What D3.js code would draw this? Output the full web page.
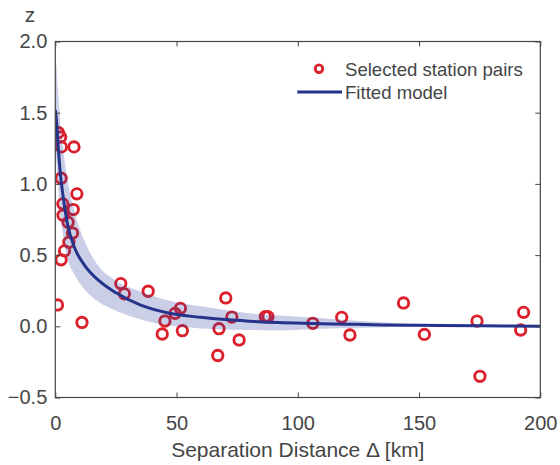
<!DOCTYPE html>
<html>
<head>
<meta charset="utf-8">
<script src="https://cdn.jsdelivr.net/npm/d3@7"></script>
<style>
  html, body { margin: 0; padding: 0; background: #fff; }
  svg { display: block; }
  text { font-family: "Liberation Sans", Arial, Helvetica, sans-serif; fill: #454545; }
</style>
</head>
<body>
<svg id="chart" width="560" height="465"></svg>
<script>
// ---- data ----
const pairDistance = [1.3, 2.2, 2.5, 7.7, 2.4, 8.9, 3.1, 7.4, 3.2, 5.3, 7.1, 5.6, 3.8, 2.4, 0.9, 11.0,
  27.0, 28.5, 38.3, 44.1, 45.2, 49.4, 51.6, 52.4, 67.0, 67.5, 70.3, 72.8, 75.8, 86.6, 87.7,
  106.2, 118.1, 121.5, 143.6, 152.2, 173.9, 175.1, 191.9, 193.1];
const pairZ = [1.36, 1.33, 1.26, 1.26, 1.04, 0.93, 0.86, 0.82, 0.78, 0.73, 0.655, 0.59, 0.53, 0.467, 0.15, 0.027,
  0.30, 0.228, 0.246, -0.054, 0.037, 0.091, 0.126, -0.031, -0.205, -0.017, 0.199, 0.065, -0.096, 0.068, 0.068,
  0.021, 0.063, -0.061, 0.164, -0.057, 0.037, -0.351, -0.026, 0.098];

const fitDistance = [0, 0.5, 1, 2, 3, 5, 8, 12, 18, 25, 35, 47, 60, 70, 80, 92, 106, 120, 135, 150, 175, 200];
const fitZ      = [1.52, 1.44, 1.31, 1.09, 0.94, 0.72, 0.55, 0.43, 0.32, 0.235, 0.15, 0.092, 0.063, 0.047, 0.036, 0.026, 0.02, 0.015, 0.01, 0.007, 0.003, 0.001];
const fitUpper  = [1.95, 1.82, 1.68, 1.45, 1.28, 1.03, 0.80, 0.60, 0.42, 0.32, 0.245, 0.18, 0.14, 0.115, 0.092, 0.075, 0.062, 0.045, 0.028, 0.016, 0.006, 0.002];
const fitLower  = [1.25, 1.15, 1.02, 0.80, 0.66, 0.48, 0.36, 0.26, 0.17, 0.11, 0.05, 0.005, -0.015, -0.022, -0.026, -0.028, -0.02, -0.012, -0.006, -0.002, 0.0, 0.0];

const xTicks = [0, 50, 100, 150, 200];
const yTicks = [-0.5, 0.0, 0.5, 1.0, 1.5, 2.0];
const legendLabels = ["Selected station pairs", "Fitted model"];
const xTitle = "Separation Distance \u0394 [km]";
const yTitle = "z";

// ---- layout ----
const svg = d3.select("#chart");
const mLeft = 55.3, mRight = 540.3, mTop = 41.5, mBottom = 397.5;
const x = d3.scaleLinear().domain([0, 200]).range([mLeft, mRight]);
const y = d3.scaleLinear().domain([-0.5, 2.0]).range([mBottom, mTop]);

const axisColor = "#454545";
const red = "#dc1f2a";
const navy = "#25338a";

svg.append("defs").append("clipPath").attr("id", "clip")
  .append("rect").attr("x", mLeft).attr("y", mTop).attr("width", mRight - mLeft).attr("height", mBottom - mTop);

const plot = svg.append("g").attr("clip-path", "url(#clip)");

// points
const pts = pairDistance.map((d, i) => ({ d, z: pairZ[i] }));
plot.selectAll("circle.pt").data(pts).enter().append("circle")
  .attr("class", "pt")
  .attr("cx", p => x(p.d)).attr("cy", p => y(p.z)).attr("r", 5.2)
  .attr("fill", "none").attr("stroke", red).attr("stroke-width", 2.9);

// confidence band (drawn over points, translucent)
const fit = fitDistance.map((d, i) => ({ d, z: fitZ[i], hi: fitUpper[i], lo: fitLower[i] }));
plot.append("path").datum(fit)
  .attr("d", d3.area().x(p => x(p.d)).y0(p => y(p.lo)).y1(p => y(p.hi)).curve(d3.curveMonotoneX))
  .attr("fill", "#2b3a9a").attr("fill-opacity", 0.25);

// fitted line
plot.append("path").datum(fit)
  .attr("d", d3.line().x(p => x(p.d)).y(p => y(p.z)).curve(d3.curveMonotoneX))
  .attr("fill", "none").attr("stroke", navy).attr("stroke-width", 3);

// axes
function styleAxis(g) {
  g.select(".domain").remove();
  g.selectAll(".tick line").attr("stroke", axisColor).attr("stroke-width", 1);
  g.selectAll(".tick text").attr("fill", axisColor).style("font-size", "20px")
    .style("font-family", '"Liberation Sans", Arial, sans-serif');
}
const fmtY = d3.format(".1f");
svg.append("g").attr("transform", `translate(0,${mBottom})`)
  .call(d3.axisBottom(x).tickValues(xTicks).tickFormat(d3.format("d")).tickSizeInner(-5).tickSizeOuter(0).tickPadding(18))
  .call(styleAxis);
svg.append("g").attr("transform", `translate(0,${mTop})`)
  .call(d3.axisTop(x).tickValues(xTicks).tickFormat("").tickSizeInner(-5).tickSizeOuter(0))
  .call(styleAxis);
svg.append("g").attr("transform", `translate(${mLeft},0)`)
  .call(d3.axisLeft(y).tickValues(yTicks).tickFormat(fmtY).tickSizeInner(-5).tickSizeOuter(0).tickPadding(8))
  .call(styleAxis);
svg.append("g").attr("transform", `translate(${mRight},0)`)
  .call(d3.axisRight(y).tickValues(yTicks).tickFormat("").tickSizeInner(-5).tickSizeOuter(0))
  .call(styleAxis);

// box
svg.append("rect").attr("x", mLeft).attr("y", mTop).attr("width", mRight - mLeft).attr("height", mBottom - mTop)
  .attr("fill", "none").attr("stroke", axisColor).attr("stroke-width", 1.2);

// titles
svg.append("text").attr("x", (mLeft + mRight) / 2).attr("y", 456.5).attr("text-anchor", "middle")
  .style("font-size", "21px").text(xTitle);
svg.append("text").attr("x", 30).attr("y", 21.5).attr("text-anchor", "middle")
  .style("font-size", "21px").text(yTitle);

// legend
const lg = svg.append("g");
lg.append("circle").attr("cx", 319).attr("cy", 68.7).attr("r", 3.8)
  .attr("fill", "none").attr("stroke", red).attr("stroke-width", 2.8);
lg.append("line").attr("x1", 297.3).attr("x2", 342).attr("y1", 92).attr("y2", 92)
  .attr("stroke", navy).attr("stroke-width", 3);
lg.append("text").attr("x", 345).attr("y", 75.8).style("font-size", "18.6px").text(legendLabels[0]);
lg.append("text").attr("x", 345).attr("y", 99.2).style("font-size", "18.6px").text(legendLabels[1]);
</script>
</body>
</html>
